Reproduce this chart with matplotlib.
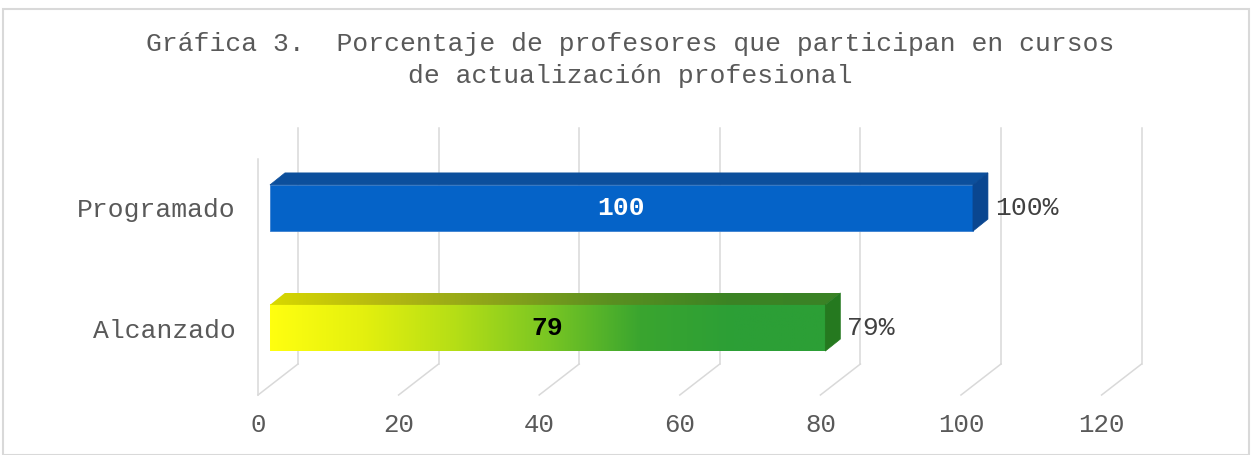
import numpy as np
import matplotlib
matplotlib.use("Agg")
import matplotlib.pyplot as plt
from matplotlib.patches import Polygon, Rectangle
from matplotlib.colors import LinearSegmentedColormap

# ============================================================
# DATA
# ============================================================

categories = ["Alcanzado", "Programado"]
values = [79, 100]
bar_labels = ["79", "100"]
pct_labels = ["79%", "100%"]
xticks = [0, 20, 40, 60, 80, 100, 120]

title = ("Gráfica 3.  Porcentaje de profesores que participan en cursos\n"
         "de actualización profesional")

# ============================================================
# STYLE
# ============================================================

FONT = "Liberation Mono"
GRID = "#d9d9d9"
TXT = "#595959"

W, H = 1253, 455
X0 = 258        # pixel of x = 0 on the floor front edge
PX_X = 7.03     # pixels per x unit
PX_Y = 120.0    # pixels per category

# 3d depth of the plot box, in data units
DEPTH_X = 40 / PX_X
DEPTH_Y = 31 / PX_Y
# bar depth
BDX = 15 / PX_X
BDY = 12 / PX_Y
BAR_SHIFT = 1.7
BAR_H = 0.385

fig = plt.figure(figsize=(W / 100, H / 100), dpi=100)

# outer frame
fig.patches.append(Rectangle((3 / W, 0), 1246 / W, 446 / H, transform=fig.transFigure,
                             fill=False, edgecolor=GRID, linewidth=1.5))

ax_left = X0 / W
ax = fig.add_axes([ax_left, (H - 395) / H, 1 - ax_left, 395 / H])
xmax = (W - X0) / PX_X
y_floor = (328 - 395) / PX_Y
ymax = 328 / PX_Y

for s in ax.spines.values():
    s.set_visible(False)
ax.set_facecolor("none")

# ------------------------------------------------------------
# walls and grid
# ------------------------------------------------------------

y_top = (328 - 128) / PX_Y
for v in xticks:
    ax.plot([v, v + DEPTH_X], [y_floor, y_floor + DEPTH_Y], color=GRID, lw=1.1,
            clip_on=False, zorder=1)
    ax.plot([v + DEPTH_X, v + DEPTH_X], [y_floor + DEPTH_Y, y_top], color=GRID, lw=1.1,
            clip_on=False, zorder=1)
ax.plot([0, 0], [y_floor, y_top - DEPTH_Y], color=GRID, lw=1.1, clip_on=False, zorder=1)

# ------------------------------------------------------------
# bars
# ------------------------------------------------------------

green_cmap = LinearSegmentedColormap.from_list(
    "yg", ["#ffff10", "#e4f00e", "#b5de16", "#79c623", "#3aa52f", "#2c9f36", "#2c9f36"])
green_top = LinearSegmentedColormap.from_list(
    "yg_top", ["#d8d800", "#b4b812", "#8aa31a", "#5a8f20", "#3c8424", "#3a8226"])

blue_front = "#0563c8"
blue_top = "#0c4f9c"
blue_side = "#0a4690"

for i, (cat, v) in enumerate(zip(categories, values)):
    c = i
    L = BAR_SHIFT
    R = BAR_SHIFT + v
    y0, y1 = c - BAR_H / 2, c + BAR_H / 2
    top = [(L, y1), (L + BDX, y1 + BDY), (R + BDX, y1 + BDY), (R, y1)]
    side = [(R, y0), (R + BDX, y0 + BDY), (R + BDX, y1 + BDY), (R, y1)]

    if cat == "Programado":
        ax.add_patch(Rectangle((L, y0), R - L, y1 - y0, facecolor=blue_front,
                               edgecolor="#3a7fd0", lw=0.6, zorder=3))
        ax.add_patch(Polygon(top, closed=True, facecolor=blue_top, edgecolor=blue_top,
                             lw=0.5, zorder=3))
        ax.add_patch(Polygon(side, closed=True, facecolor=blue_side, edgecolor=blue_side,
                             lw=0.5, zorder=3))
        lab_color = "white"
    else:
        grad = np.linspace(0, 1, 256).reshape(1, -1)
        ax.imshow(grad, cmap=green_cmap, extent=[L, R, y0, y1], aspect="auto",
                  origin="lower", zorder=3)
        im2 = ax.imshow(grad, cmap=green_top, extent=[L, R + BDX, y1, y1 + BDY],
                        aspect="auto", origin="lower", zorder=3)
        im2.set_clip_path(Polygon(top, closed=True, transform=ax.transData))
        ax.add_patch(Polygon(side, closed=True, facecolor="#25791f", edgecolor="#25791f",
                             lw=0.5, zorder=3))
        lab_color = "black"

    ax.text((L + R) / 2, c, bar_labels[i], ha="center", va="center", color=lab_color,
            fontsize=19, fontweight="bold", family=FONT, zorder=5)
    ax.text(R + BDX + 1.0, c, pct_labels[i], ha="left", va="center", color="#404040",
            fontsize=19, family=FONT, zorder=5)

ax.set_xlim(0, xmax)
ax.set_ylim(y_floor, ymax)

# ------------------------------------------------------------
# ticks
# ------------------------------------------------------------

ax.set_xticks(xticks)
ax.set_xticklabels([str(t) for t in xticks], family=FONT, fontsize=18.5, color=TXT)
ax.set_yticks(range(len(categories)))
ax.set_yticklabels(categories, family=FONT, fontsize=19, color=TXT)
ax.tick_params(axis="x", length=0, pad=13)
ax.tick_params(axis="y", length=0, pad=16)

fig.text(630 / W, 1 - 60 / H, title, ha="center", va="center", family=FONT,
         fontsize=19, color=TXT, linespacing=1.38)

fig.savefig("out.png", dpi=100)
